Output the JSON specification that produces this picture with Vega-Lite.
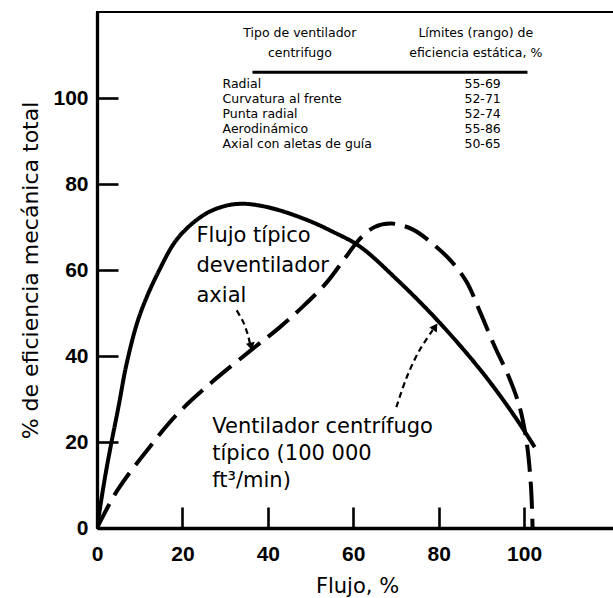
{
  "$schema": "https://vega.github.io/schema/vega-lite/v6.json",
  "width": 521,
  "height": 516,
  "autosize": {"type": "none"},
  "padding": {"left": 97, "top": 12, "right": 0, "bottom": 70},
  "background": "white",
  "config": {
    "view": {"stroke": "black", "strokeWidth": 2},
    "axis": {
      "grid": false,
      "domainColor": "black",
      "domainWidth": 3.3,
      "tickColor": "black",
      "tickWidth": 2.6,
      "tickSize": -21,
      "labelColor": "black",
      "labelFont": "Liberation Sans, Arial, sans-serif",
      "labelFontWeight": "bold",
      "labelFontSize": 21,
      "labelFlush": false,
      "labelOverlap": false,
      "labelBound": false,
      "titleColor": "black",
      "titleFont": "DejaVu Sans",
      "titleFontWeight": "normal"
    }
  },
  "datasets": {
    "curves": [
      {"serie": "centrifugo", "flujo": 0, "eficiencia": 0},
      {"serie": "centrifugo", "flujo": 1, "eficiencia": 6.5},
      {"serie": "centrifugo", "flujo": 2, "eficiencia": 12.5},
      {"serie": "centrifugo", "flujo": 3.4, "eficiencia": 20},
      {"serie": "centrifugo", "flujo": 5, "eficiencia": 28},
      {"serie": "centrifugo", "flujo": 7, "eficiencia": 38.5},
      {"serie": "centrifugo", "flujo": 10, "eficiencia": 49.5},
      {"serie": "centrifugo", "flujo": 14.6, "eficiencia": 60},
      {"serie": "centrifugo", "flujo": 19, "eficiencia": 67.5},
      {"serie": "centrifugo", "flujo": 25, "eficiencia": 72.8},
      {"serie": "centrifugo", "flujo": 30, "eficiencia": 74.9},
      {"serie": "centrifugo", "flujo": 34, "eficiencia": 75.4},
      {"serie": "centrifugo", "flujo": 38, "eficiencia": 75},
      {"serie": "centrifugo", "flujo": 43, "eficiencia": 73.8},
      {"serie": "centrifugo", "flujo": 50, "eficiencia": 71.3},
      {"serie": "centrifugo", "flujo": 55, "eficiencia": 69},
      {"serie": "centrifugo", "flujo": 61.5, "eficiencia": 65.5},
      {"serie": "centrifugo", "flujo": 70, "eficiencia": 58},
      {"serie": "centrifugo", "flujo": 80, "eficiencia": 48},
      {"serie": "centrifugo", "flujo": 90, "eficiencia": 36.5},
      {"serie": "centrifugo", "flujo": 97.3, "eficiencia": 26.7},
      {"serie": "centrifugo", "flujo": 102.5, "eficiencia": 18.8},
      {"serie": "axial", "flujo": 0, "eficiencia": 0},
      {"serie": "axial", "flujo": 4.8, "eficiencia": 8.8},
      {"serie": "axial", "flujo": 12.3, "eficiencia": 18.8},
      {"serie": "axial", "flujo": 19, "eficiencia": 26.7},
      {"serie": "axial", "flujo": 27, "eficiencia": 34},
      {"serie": "axial", "flujo": 36, "eficiencia": 41.3},
      {"serie": "axial", "flujo": 42.7, "eficiencia": 46.6},
      {"serie": "axial", "flujo": 48, "eficiencia": 51.3},
      {"serie": "axial", "flujo": 53.7, "eficiencia": 57},
      {"serie": "axial", "flujo": 58.4, "eficiencia": 63.2},
      {"serie": "axial", "flujo": 61.5, "eficiencia": 67.2},
      {"serie": "axial", "flujo": 65, "eficiencia": 70},
      {"serie": "axial", "flujo": 69, "eficiencia": 70.8},
      {"serie": "axial", "flujo": 74, "eficiencia": 69.4},
      {"serie": "axial", "flujo": 78.6, "eficiencia": 66.1},
      {"serie": "axial", "flujo": 83, "eficiencia": 62},
      {"serie": "axial", "flujo": 86.5, "eficiencia": 57.3},
      {"serie": "axial", "flujo": 89.6, "eficiencia": 50.5},
      {"serie": "axial", "flujo": 93, "eficiencia": 42.5},
      {"serie": "axial", "flujo": 96.5, "eficiencia": 35},
      {"serie": "axial", "flujo": 99, "eficiencia": 28},
      {"serie": "axial", "flujo": 100.6, "eficiencia": 20},
      {"serie": "axial", "flujo": 101.6, "eficiencia": 10},
      {"serie": "axial", "flujo": 102, "eficiencia": 0}
    ],
    "arrows": [
      {"flecha": "axial", "orden": 1, "flujo": 32.7, "eficiencia": 50.6},
      {"flecha": "axial", "orden": 2, "flujo": 34.2, "eficiencia": 48},
      {"flecha": "axial", "orden": 3, "flujo": 35.3, "eficiencia": 45},
      {"flecha": "axial", "orden": 4, "flujo": 35.9, "eficiencia": 42.5},
      {"flecha": "centrifugo", "orden": 1, "flujo": 70.1, "eficiencia": 28.1},
      {"flecha": "centrifugo", "orden": 2, "flujo": 72.5, "eficiencia": 35},
      {"flecha": "centrifugo", "orden": 3, "flujo": 75.5, "eficiencia": 41.3},
      {"flecha": "centrifugo", "orden": 4, "flujo": 78.6, "eficiencia": 46}
    ],
    "heads": [
      {"flecha": "axial", "flujo": 36.1, "eficiencia": 42.2},
      {"flecha": "centrifugo", "flujo": 79.2, "eficiencia": 46.8}
    ],
    "notes": [
      {"texto": "Flujo típico\ndeventilador\naxial", "flujo": 23.3, "eficiencia": 66.5, "grupo": "a"},
      {"texto": "Ventilador centrífugo\ntípico (100 000\nft³/min)", "flujo": 27.0, "eficiencia": 22.1, "grupo": "b"}
    ],
    "headers": [
      {"texto": "Tipo de ventilador\ncentrifugo", "flujo": 47.5, "eficiencia": 114.2},
      {"texto": "Límites (rango) de\neficiencia estática, %", "flujo": 88.7, "eficiencia": 114.2}
    ],
    "rows": [
      {"tipo": "Radial", "rango": "55-69", "eficiencia": 102.3},
      {"tipo": "Curvatura al frente", "rango": "52-71", "eficiencia": 98.8},
      {"tipo": "Punta radial", "rango": "52-74", "eficiencia": 95.3},
      {"tipo": "Aerodinámico", "rango": "55-86", "eficiencia": 91.9},
      {"tipo": "Axial con aletas de guía", "rango": "50-65", "eficiencia": 88.4}
    ],
    "underline": [
      {"desde": 36.4, "hasta": 100.8, "eficiencia": 106}
    ]
  },
  "layer": [
    {
      "data": {"name": "curves"},
      "mark": {"type": "line", "color": "black", "strokeWidth": 4, "interpolate": "catmull-rom", "clip": true},
      "encoding": {
        "x": {
          "field": "flujo", "type": "quantitative",
          "scale": {"domain": [0, 122], "nice": false, "zero": false},
          "axis": {
            "values": [0, 20, 40, 60, 80, 100],
            "title": "Flujo, %",
            "titleFontSize": 21,
            "labelPadding": 36,
            "titleBaseline": "alphabetic",
            "titleY": 64,
            "titleX": 260,
            "titleAnchor": "middle"
          }
        },
        "y": {
          "field": "eficiencia", "type": "quantitative",
          "scale": {"domain": [0, 120], "nice": false, "zero": false},
          "axis": {
            "values": [0, 20, 40, 60, 80, 100],
            "title": "% de eficiencia mecánica total",
            "titleFontSize": 22,
            "labelPadding": 30,
            "titleX": -67,
            "titleY": 258,
            "titleAngle": -90,
            "titleAlign": "center",
            "titleBaseline": "middle"
          }
        },
        "detail": {"field": "serie"},
        "strokeDash": {
          "field": "serie", "type": "nominal",
          "scale": {"domain": ["centrifugo", "axial"], "range": [[1, 0], [27, 10]]},
          "legend": null
        }
      }
    },
    {
      "data": {"name": "arrows"},
      "mark": {"type": "line", "color": "black", "strokeWidth": 2.2, "strokeDash": [6, 4], "interpolate": "catmull-rom"},
      "encoding": {
        "x": {"field": "flujo", "type": "quantitative"},
        "y": {"field": "eficiencia", "type": "quantitative"},
        "detail": {"field": "flecha"},
        "order": {"field": "orden"}
      }
    },
    {
      "data": {"name": "heads"},
      "transform": [{"filter": "datum.flecha === 'axial'"}],
      "mark": {"type": "point", "shape": "triangle-down", "angle": -13, "filled": true, "color": "black", "size": 80, "opacity": 1},
      "encoding": {
        "x": {"field": "flujo", "type": "quantitative"},
        "y": {"field": "eficiencia", "type": "quantitative"}
      }
    },
    {
      "data": {"name": "heads"},
      "transform": [{"filter": "datum.flecha === 'centrifugo'"}],
      "mark": {"type": "point", "shape": "triangle-up", "angle": 34, "filled": true, "color": "black", "size": 80, "opacity": 1},
      "encoding": {
        "x": {"field": "flujo", "type": "quantitative"},
        "y": {"field": "eficiencia", "type": "quantitative"}
      }
    },
    {
      "data": {"name": "notes"},
      "transform": [{"filter": "datum.grupo === 'a'"}],
      "mark": {"type": "text", "align": "left", "baseline": "alphabetic", "font": "DejaVu Sans", "fontSize": 21, "lineBreak": "\n", "lineHeight": 30, "color": "black"},
      "encoding": {
        "x": {"field": "flujo", "type": "quantitative"},
        "y": {"field": "eficiencia", "type": "quantitative"},
        "text": {"field": "texto"}
      }
    },
    {
      "data": {"name": "notes"},
      "transform": [{"filter": "datum.grupo === 'b'"}],
      "mark": {"type": "text", "align": "left", "baseline": "alphabetic", "font": "DejaVu Sans", "fontSize": 21, "lineBreak": "\n", "lineHeight": 27, "color": "black"},
      "encoding": {
        "x": {"field": "flujo", "type": "quantitative"},
        "y": {"field": "eficiencia", "type": "quantitative"},
        "text": {"field": "texto"}
      }
    },
    {
      "data": {"name": "headers"},
      "mark": {"type": "text", "align": "center", "baseline": "alphabetic", "font": "DejaVu Sans", "fontSize": 12.5, "lineBreak": "\n", "lineHeight": 20, "color": "black"},
      "encoding": {
        "x": {"field": "flujo", "type": "quantitative"},
        "y": {"field": "eficiencia", "type": "quantitative"},
        "text": {"field": "texto"}
      }
    },
    {
      "data": {"name": "underline"},
      "mark": {"type": "rule", "color": "black", "strokeWidth": 3},
      "encoding": {
        "x": {"field": "desde", "type": "quantitative"},
        "x2": {"field": "hasta"},
        "y": {"field": "eficiencia", "type": "quantitative"}
      }
    },
    {
      "data": {"name": "rows"},
      "mark": {"type": "text", "align": "left", "baseline": "alphabetic", "font": "DejaVu Sans", "fontSize": 12.5, "color": "black"},
      "encoding": {
        "x": {"datum": 29.4, "type": "quantitative"},
        "y": {"field": "eficiencia", "type": "quantitative"},
        "text": {"field": "tipo"}
      }
    },
    {
      "data": {"name": "rows"},
      "mark": {"type": "text", "align": "center", "baseline": "alphabetic", "font": "DejaVu Sans", "fontSize": 12.5, "color": "black"},
      "encoding": {
        "x": {"datum": 90.3, "type": "quantitative"},
        "y": {"field": "eficiencia", "type": "quantitative"},
        "text": {"field": "rango"}
      }
    }
  ]
}
